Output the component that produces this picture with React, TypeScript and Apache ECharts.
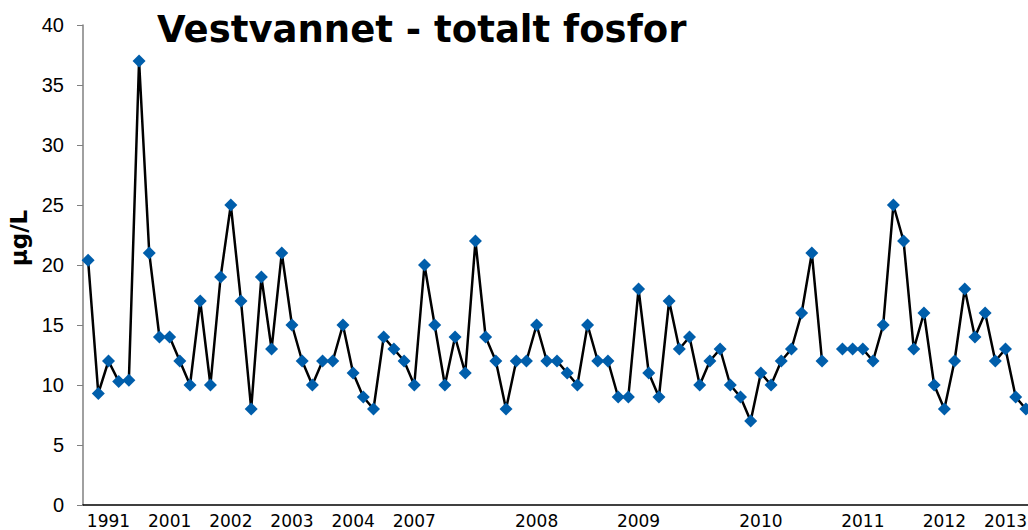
import React, { useEffect, useRef } from "react";
import * as echarts from "echarts";

const titleText = "Vestvannet - totalt fosfor";
const yAxisName = "µg/L";

// total phosphorus (µg/L), one value per sample; null = missing sample
const values: (number | null)[] = [
  20.4, 9.3, 12, 10.3, 10.4, 37, 21, 14, 14, 12, 10, 17, 10, 19, 25, 17, 8, 19, 13, 21,
  15, 12, 10, 12, 12, 15, 11, 9, 8, 14, 13, 12, 10, 20, 15, 10, 14, 11, 22, 14,
  12, 8, 12, 12, 15, 12, 12, 11, 10, 15, 12, 12, 9, 9, 18, 11, 9, 17, 13, 14,
  10, 12, 13, 10, 9, 7, 11, 10, 12, 13, 16, 21, 12, null, 13, 13, 13, 12, 15, 25,
  22, 13, 16, 10, 8, 12, 18, 14, 16, 12, 13, 9, 8,
];

// sample positions (0-based) that carry a year label, and the labels
const tickPositions = [2, 8, 14, 20, 26, 32, 44, 54, 66, 76, 84, 90];
const tickLabels = ["1991", "2001", "2002", "2003", "2004", "2007", "2008", "2009", "2010", "2011", "2012", "2013"];

const categories = values.map((_, i) => {
  const k = tickPositions.indexOf(i);
  return k >= 0 ? tickLabels[k] : "s" + i;
});

const yTicks = [0, 5, 10, 15, 20, 25, 30, 35, 40];

export default function App() {
  const ref = useRef<HTMLDivElement>(null);
  useEffect(() => {
    document.body.style.margin = "0";
    const chart = echarts.init(ref.current!, undefined, { renderer: "svg" });
    chart.setOption({
      animation: false,
      backgroundColor: "#ffffff",
      title: {
        text: titleText,
        left: 152,
        top: 6,
        textStyle: {
          fontFamily: "DejaVu Sans",
          fontWeight: "bold",
          fontSize: 37,
          color: "#000000",
        },
      },
      graphic: [
        {
          type: "text",
          x: 19,
          y: 238,
          rotation: Math.PI / 2,
          style: {
            text: yAxisName,
            fontFamily: "DejaVu Sans",
            fontWeight: "bold",
            fontSize: 23,
            fill: "#000000",
            textAlign: "center",
            textVerticalAlign: "middle",
          },
        },
      ],
      grid: {
        left: 83,
        right: -3,
        top: 25,
        bottom: 25,
        containLabel: false,
        outerBoundsMode: "none",
      },
      xAxis: {
        type: "category",
        data: categories,
        boundaryGap: true,
        axisLine: { lineStyle: { color: "#000000", width: 1.5 } },
        axisTick: { show: false },
        axisLabel: {
          interval: 0,
          margin: 7,
          fontFamily: "DejaVu Sans",
          fontSize: 17,
          color: "#000000",
          formatter: (v: string) => (tickLabels.indexOf(v) >= 0 ? v : ""),
        },
        splitLine: { show: false },
      },
      yAxis: {
        type: "value",
        min: yTicks[0],
        max: yTicks[yTicks.length - 1],
        interval: 5,
        axisLine: { show: true, lineStyle: { color: "#808080", width: 1.5 } },
        axisTick: { show: true, length: 6, lineStyle: { color: "#808080", width: 1 } },
        axisLabel: {
          margin: 19,
          fontFamily: "Liberation Sans",
          fontSize: 20,
          color: "#000000",
        },
        splitLine: { show: false },
      },
      series: [
        {
          type: "line",
          data: values,
          connectNulls: false,
          symbol: "diamond",
          symbolSize: 13,
          showAllSymbol: true,
          lineStyle: { color: "#000000", width: 2.5 },
          itemStyle: { color: "#005EAB" },
          z: 2,
        },
      ],
    });
    return () => chart.dispose();
  }, []);
  return <div ref={ref} style={{ position: "fixed", left: 0, top: 0, width: 1028, height: 530 }} />;
}
